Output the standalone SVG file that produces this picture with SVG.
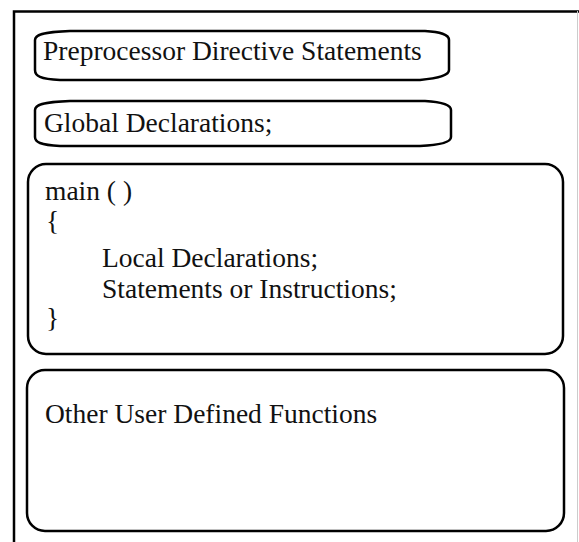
<svg xmlns="http://www.w3.org/2000/svg" width="579" height="542" viewBox="0 0 579 542">
<style>
.frame{fill:none;stroke:#000;stroke-width:2.5}
.box{fill:#fff;stroke:#000;stroke-width:2.5}
.t{font-family:"Liberation Serif","Times New Roman",serif;font-size:27.5px;fill:#111}
</style>
<rect width="579" height="542" fill="#fff"/>
<g id="frame">
<path class="frame" d="M14,542 V11.5 H579"/>
<line x1="577.5" y1="11" x2="577.5" y2="542" stroke="#ccc" stroke-width="1"/>
</g>
<g id="preprocessor">
<path class="box" d="M70,31 H425 C440,32 449,34 449,40 V70 C449,75 440,78 420,80 H60 C40,79 35,76 35,70 V40 C35,35 42,32 70,31 Z"/>
<text class="t" x="43" y="60">Preprocessor Directive Statements</text>
</g>
<g id="global">
<path class="box" d="M70,101 H425 C442,102 451,105 451,110 V137 C451,142 442,145 420,146 H60 C40,145 35,142 35,137 V110 C35,105 42,102 70,101 Z"/>
<text class="t" x="44" y="132">Global Declarations;</text>
</g>
<g id="main">
<rect class="box" x="28" y="164" width="535" height="190" rx="18" ry="18"/>
<text class="t" x="45" y="200">main ( )</text>
<text class="t" x="46" y="230">{</text>
<text class="t" x="102" y="267">Local Declarations;</text>
<text class="t" x="102" y="298">Statements or Instructions;</text>
<text class="t" x="46" y="327">}</text>
</g>
<g id="functions">
<rect class="box" x="27" y="370" width="537" height="161" rx="18" ry="18"/>
<text class="t" x="45" y="423">Other User Defined Functions</text>
</g>
</svg>
